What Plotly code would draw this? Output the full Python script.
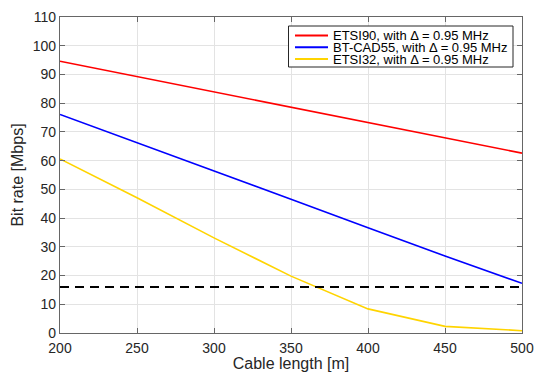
import plotly.graph_objects as go

cable_length = [200, 250, 300, 350, 400, 450, 500]
etsi90 = [94.6, 89.3, 84.0, 78.6, 73.3, 67.9, 62.6]
bt_cad55 = [76.1, 66.3, 56.4, 46.6, 36.6, 26.8, 17.3]
etsi32 = [60.6, 47.1, 33.1, 19.8, 8.4, 2.3, 0.8]
threshold_x = [200, 500]
threshold_y = [16, 16]

series_names = ["ETSI90, with \u0394 = 0.95 MHz",
                "BT-CAD55, with \u0394 = 0.95 MHz",
                "ETSI32, with \u0394 = 0.95 MHz"]
series_colors = ["#ff0000", "#0000ff", "#ffd400"]

x_ticks = [200, 250, 300, 350, 400, 450, 500]
y_ticks = [0, 10, 20, 30, 40, 50, 60, 70, 80, 90, 100, 110]

FONT = "Liberation Sans, Arial, Helvetica, sans-serif"

W, H = 534, 372
ML, MR, MT, MB = 60, 12, 17, 39
PW, PH = W - ML - MR, H - MT - MB


def px_x(p):
    return (p - ML) / PW


def px_y(p):
    return (H - MB - p) / PH


fig = go.Figure()
for name, ys, col in zip(series_names, [etsi90, bt_cad55, etsi32], series_colors):
    fig.add_trace(go.Scatter(x=cable_length, y=ys, mode="lines", name=name,
                             showlegend=False, line=dict(color=col, width=1.6)))
fig.add_trace(go.Scatter(x=threshold_x, y=threshold_y, mode="lines", showlegend=False,
                         name="threshold",
                         line=dict(color="black", width=2, dash="9px,6px")))

axis_common = dict(showgrid=True, gridcolor="#e3e3e3", gridwidth=1,
                   showline=True, linecolor="#666666", linewidth=1.2, mirror="ticks",
                   ticks="inside", ticklen=5, tickcolor="#666666", tickwidth=1,
                   zeroline=False, automargin=False,
                   tickfont=dict(family=FONT, size=14, color="#262626"))

fig.update_xaxes(range=[200, 500], tickvals=x_ticks, ticklabelstandoff=2,
                 title=dict(text="Cable length [m]", font=dict(family=FONT, size=16, color="#262626"),
                            standoff=2),
                 **axis_common)
fig.update_yaxes(range=[0, 110], tickvals=y_ticks,
                 title=dict(text="Bit rate [Mbps]", font=dict(family=FONT, size=16, color="#262626"),
                            standoff=5),
                 **axis_common)

# Legend box drawn in the compact style of the reference
shapes = [dict(type="rect", xref="paper", yref="paper",
               x0=px_x(288.5), x1=px_x(513), y0=px_y(67), y1=px_y(26),
               line=dict(color="#262626", width=1), fillcolor="white", layer="above")]
annotations = []
rows = [35.6, 47.3, 59.1]
for name, col, ry in zip(series_names, series_colors, rows):
    shapes.append(dict(type="line", xref="paper", yref="paper",
                       x0=px_x(295), x1=px_x(328), y0=px_y(ry), y1=px_y(ry),
                       line=dict(color=col, width=2), layer="above"))
    annotations.append(dict(xref="paper", yref="paper", x=px_x(331), y=px_y(ry),
                            xanchor="left", yanchor="middle", showarrow=False,
                            text=name, font=dict(family=FONT, size=13, color="black")))

fig.update_layout(
    width=W, height=H,
    margin=dict(l=ML, r=MR, t=MT, b=MB),
    paper_bgcolor="white", plot_bgcolor="white",
    font=dict(family=FONT, color="#262626"),
    showlegend=False,
    shapes=shapes, annotations=annotations,
)

fig.write_html("out.html",
               config={"displayModeBar": False},
               post_script="document.body.style.margin='0';document.body.style.padding='0';")
